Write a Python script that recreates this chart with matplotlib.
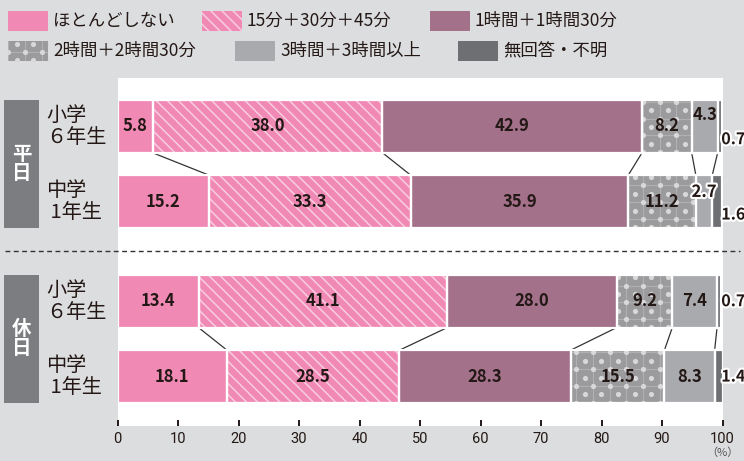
import numpy as np
import matplotlib
matplotlib.use('Agg')
import matplotlib.pyplot as plt
import matplotlib.patheffects as pe
from matplotlib.patches import Rectangle
from matplotlib.lines import Line2D
from matplotlib.transforms import blended_transform_factory

plt.rcParams['font.family'] = ['Noto Sans CJK JP', 'DejaVu Sans']
plt.rcParams['hatch.linewidth'] = 1.1

# Data

categories = ['ほとんどしない', '15分＋30分＋45分', '1時間＋1時間30分',
              '2時間＋2時間30分', '3時間＋3時間以上', '無回答・不明']
groups = ['平\n日', '休\n日']
row_labels = ['小学\n６年生', '中学\n 1年生', '小学\n６年生', '中学\n 1年生']

weekday_sho6 = [5.8, 38.0, 42.9, 8.2, 4.3, 0.7]
weekday_chu1 = [15.2, 33.3, 35.9, 11.2, 2.7, 1.6]
holiday_sho6 = [13.4, 41.1, 28.0, 9.2, 7.4, 0.7]
holiday_chu1 = [18.1, 28.5, 28.3, 15.5, 8.3, 1.4]
rows = [weekday_sho6, weekday_chu1, holiday_sho6, holiday_chu1]

xticks = [0, 10, 20, 30, 40, 50, 60, 70, 80, 90, 100]

# Styles: (face, hatch, hatch colour); 'dots' is drawn by hand below
styles = [('#f08ab5', None, '#f08ab5'),
          ('#f08ab5', '\\\\\\', '#f9cde0'),
          ('#a4718b', None, '#a4718b'),
          ('#9b9b9d', 'dots', '#d8d8da'),
          ('#a9aaad', None, '#a9aaad'),
          ('#6e6f73', None, '#6e6f73')]

bg = '#dcdddf'
dark = '#231815'
W, H = 744, 461


def fx(x):
    return x / W


def fy(y):
    return 1 - y / H


def dot_fill(a, patch, color):
    # staggered white dots + faint grid, clipped to the patch (pixel spacing)
    bb = patch.get_window_extent()
    sx, sy = 16.7, 8.35
    inv = a.transData.inverted()
    pts = []
    for r in np.arange(np.floor(bb.y0 / sy) - 1, np.ceil(bb.y1 / sy) + 2):
        off = sx / 2 if r % 2 else 0
        for c in np.arange(np.floor(bb.x0 / sx) - 1, np.ceil(bb.x1 / sx) + 2):
            pts.append((c * sx + off, r * sy))
    pts = inv.transform(pts)
    z = patch.get_zorder() + 0.1
    xs = np.arange(np.floor(bb.x0 / sx) - 1, np.ceil(bb.x1 / sx) + 2) * sx + sx / 2
    ys = np.arange(np.floor(bb.y0 / (2 * sy)) - 1, np.ceil(bb.y1 / (2 * sy)) + 2) * 2 * sy + sy
    for x in xs:
        p0, p1 = inv.transform([(x, bb.y0), (x, bb.y1)])
        ln, = a.plot([p0[0], p1[0]], [p0[1], p1[1]], color=color, alpha=0.35,
                     linewidth=0.8, zorder=z)
        ln.set_clip_path(patch)
    for y in ys:
        p0, p1 = inv.transform([(bb.x0, y), (bb.x1, y)])
        ln, = a.plot([p0[0], p1[0]], [p0[1], p1[1]], color=color, alpha=0.35,
                     linewidth=0.8, zorder=z)
        ln.set_clip_path(patch)
    sc = a.scatter(pts[:, 0], pts[:, 1], s=14, color=color, linewidths=0,
                   zorder=z + 0.05)
    sc.set_clip_path(patch)


fig = plt.figure(figsize=(W / 100, H / 100), dpi=100, facecolor=bg)
ax = fig.add_axes([fx(117.5), fy(426), fx(722.5) - fx(117.5), fy(78) - fy(426)])
ax.set_facecolor('white')

ypos = [0, 1, 2.32, 3.32]
bh = 0.70
ax.set_xlim(0, 100)
ax.set_ylim(3.32 + 0.656, -0.642)

for i, vals in enumerate(rows):
    lefts = np.concatenate([[0], np.cumsum(vals)[:-1]])
    for k, (v, l) in enumerate(zip(vals, lefts)):
        face, hatch, hc = styles[k]
        bars = ax.barh(ypos[i], v, left=l, height=bh, color=face,
                       hatch=None if hatch == 'dots' else hatch,
                       edgecolor=hc, linewidth=0)
        if hatch == 'dots':
            dot_fill(ax, bars[0], hc)
        ax.barh(ypos[i], v, left=l, height=bh, fill=False,
                edgecolor='white', linewidth=1.6, zorder=3)

# connector lines
for a, b in [(0, 1), (2, 3)]:
    ca = np.cumsum(rows[a])
    cb = np.cumsum(rows[b])
    for k in range(5):
        ax.plot([ca[k], cb[k]], [ypos[a] + bh / 2, ypos[b] - bh / 2],
                color='#333333', linewidth=0.9, solid_capstyle='butt')

# value labels
label_dy = {(0, 4): -0.15, (0, 5): 0.17, (1, 4): -0.13, (1, 5): 0.17}
outline = [pe.withStroke(linewidth=3, foreground='white')]
for i, vals in enumerate(rows):
    cum = np.cumsum(vals)
    for k, v in enumerate(vals):
        dy = label_dy.get((i, k), 0)
        if v < 2:
            ax.text(99.8, ypos[i] + dy, f'{v:.1f}', ha='left', va='center',
                    fontsize=11.5, fontweight='bold', color=dark,
                    path_effects=outline, clip_on=False, zorder=5)
        else:
            pe_ = outline if (i, k) == (1, 4) else None
            ax.text(cum[k] - v / 2, ypos[i] + dy, f'{v:.1f}', ha='center',
                    va='center', fontsize=12, fontweight='bold', color=dark,
                    path_effects=pe_, zorder=5)

ax.set_xticks(xticks)
ax.set_yticks([])
ax.tick_params(axis='x', direction='in', length=4.5, width=1.4, pad=4,
               color=dark, labelcolor=dark, labelsize=10.5)
for lab in ax.get_xticklabels():
    lab.set_family('Roboto')
for s in ax.spines.values():
    s.set_visible(False)

fig.text(fx(722), fy(453), '（%）', ha='center', va='center', fontsize=8,
         color='#555555')

# left side: group boxes and row labels
tr = blended_transform_factory(fig.transFigure, ax.transData)
for g, (a, b) in enumerate([(0, 1), (2, 3)]):
    ax.add_patch(Rectangle((fx(4), ypos[a] - bh / 2), fx(39) - fx(4),
                           ypos[b] - ypos[a] + bh, transform=tr,
                           facecolor='#7c7d81', edgecolor='none', clip_on=False))
    ax.text(fx(21.5), (ypos[a] + ypos[b]) / 2, groups[g], transform=tr,
            ha='center', va='center', color='white', fontsize=14,
            fontweight='bold', linespacing=1.0)
for i, lab in enumerate(row_labels):
    ax.text(fx(46), ypos[i], lab, transform=tr, ha='left', va='center',
            fontsize=14.5, color=dark, linespacing=1.05)

# dashed separator
fig.add_artist(Line2D([fx(5), fx(740)], [fy(251), fy(251)],
                      transform=fig.transFigure, color='#333333',
                      linewidth=1.0, linestyle=(0, (3.5, 2.5))))

# legend
legend_pos = [(8, 11), (202, 11), (430, 11), (8, 41), (235, 41), (458, 41)]
for k, (lx, ly) in enumerate(legend_pos):
    face, hatch, hc = styles[k]
    lax = fig.add_axes([fx(lx), fy(ly + 20), 40 / W, 20 / H])
    lax.set_xlim(0, 1)
    lax.set_ylim(0, 1)
    lax.set_axis_off()
    sw = Rectangle((0, 0), 1, 1, facecolor=face,
                   hatch=None if hatch == 'dots' else hatch,
                   edgecolor=hc, linewidth=0)
    lax.add_patch(sw)
    if hatch == 'dots':
        dot_fill(lax, sw, hc)
    fig.text(fx(lx + 45), fy(ly + 10), categories[k], ha='left', va='center',
             fontsize=12.5, color=dark)

fig.savefig('out.png', dpi=100, facecolor=bg)
